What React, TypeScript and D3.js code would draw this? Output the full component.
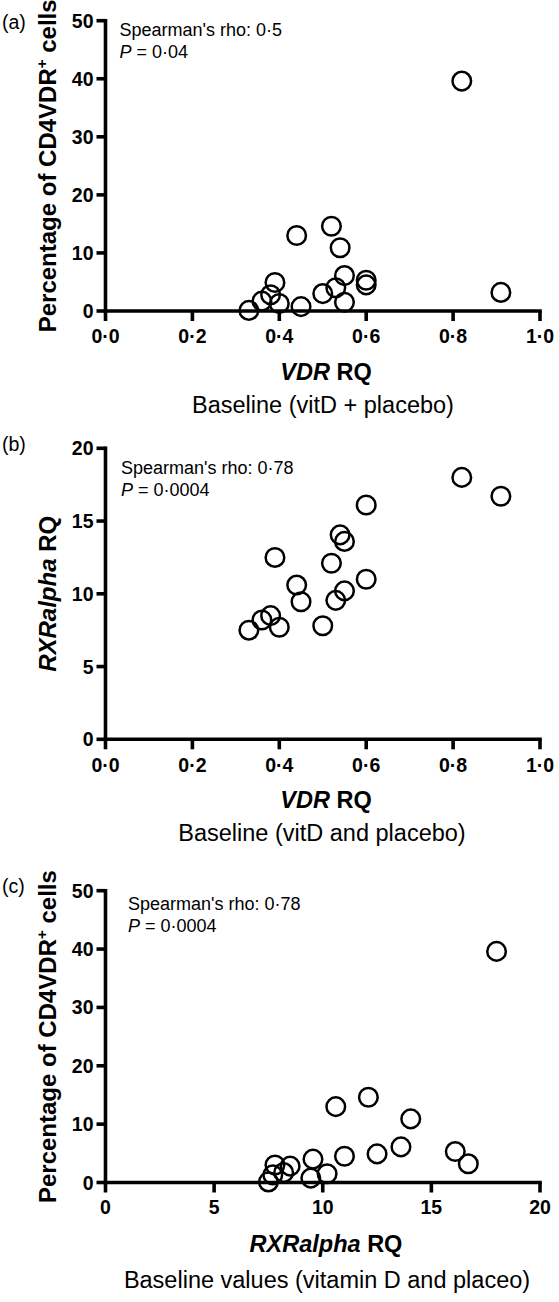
import React from "react";
import * as d3 from "d3";

// ---- data (one entry per participant) ----
const vdrRQ = [0.33, 0.36, 0.38, 0.39, 0.40, 0.44, 0.45, 0.50, 0.52, 0.53, 0.54, 0.55, 0.55, 0.60, 0.60, 0.82, 0.91];
const rxrRQ = [7.5, 8.2, 8.5, 12.5, 7.7, 10.6, 9.45, 7.8, 12.1, 9.55, 14.05, 13.6, 10.2, 16.1, 11.0, 18.0, 16.7];
const cd4VdrPct = [0.1, 1.7, 2.8, 4.9, 1.3, 13.0, 0.75, 3.0, 14.6, 4.0, 10.9, 6.1, 1.5, 5.3, 4.5, 39.6, 3.2];

const vdrTicks = [0, 0.2, 0.4, 0.6, 0.8, 1.0];
const cd4Ticks = [0, 10, 20, 30, 40, 50];
const rxrTicks = [0, 5, 10, 15, 20];

const panelLabels = ["(a)", "(b)", "(c)"];
const rhoTexts = ["Spearman's rho: 0·5", "Spearman's rho: 0·78", "Spearman's rho: 0·78"];
const pTexts = ["0·04", "0·0004", "0·0004"];
const captions = ["Baseline (vitD + placebo)", "Baseline (vitD and placebo)", "Baseline values (vitamin D and placeo)"];

const FONT = "'Liberation Sans', Arial, Helvetica, sans-serif";

const fmtDec = (v: number) => d3.format(".1f")(v).replace(".", "·");
const fmtInt = (v: number) => d3.format("d")(v);

type PanelProps = {
  xs: number[];
  ys: number[];
  xDomain: [number, number];
  yDomain: [number, number];
  xTicks: number[];
  yTicks: number[];
  xFmt: (v: number) => string;
  yFmt: (v: number) => string;
  top: number;
  bottom: number;
  label: string;
  labelY: number;
  rho: string;
  rhoX: number;
  rhoY: number;
  p: string;
  xTitle: React.ReactNode;
  yTitle: React.ReactNode;
  xTickY: number;
  xTitleY: number;
  caption: string;
  captionX: number;
  captionY: number;
};

function Panel(props: PanelProps) {
  const x0 = 105.5;
  const x1 = 540;
  const x = d3.scaleLinear().domain(props.xDomain).range([x0, x1]);
  const y = d3.scaleLinear().domain(props.yDomain).range([props.bottom, props.top]);
  const sw = 3.6;
  return (
    <g fontFamily={FONT} fill="#000">
      {/* axes */}
      <line x1={x0} x2={x0} y1={props.top - sw / 2} y2={props.bottom + sw / 2} stroke="#000" strokeWidth={sw} />
      <line x1={x0} x2={x1 + sw / 2} y1={props.bottom} y2={props.bottom} stroke="#000" strokeWidth={sw} />
      {props.yTicks.map((t) => (
        <g key={"y" + t}>
          <line x1={x0 - 9} x2={x0} y1={y(t)} y2={y(t)} stroke="#000" strokeWidth={sw} />
          <text x={93.5} y={y(t) + 7} textAnchor="end" fontSize={19.5} fontWeight="bold">
            {props.yFmt(t)}
          </text>
        </g>
      ))}
      {props.xTicks.map((t) => (
        <g key={"x" + t}>
          <line x1={x(t)} x2={x(t)} y1={props.bottom} y2={props.bottom + 10} stroke="#000" strokeWidth={sw} />
          <text x={x(t)} y={props.xTickY} textAnchor="middle" fontSize={19.5} fontWeight="bold">
            {props.xFmt(t)}
          </text>
        </g>
      ))}
      {/* points */}
      {props.xs.map((v, i) => (
        <circle key={i} cx={x(v)} cy={y(props.ys[i])} r={9.3} fill="none" stroke="#000" strokeWidth={2.5} />
      ))}
      {/* annotations */}
      <text x={2} y={props.labelY} fontSize={19.5}>{props.label}</text>
      <text x={props.rhoX} y={props.rhoY} fontSize={18}>{props.rho}</text>
      <text x={props.rhoX} y={props.rhoY + 22} fontSize={18}>
        <tspan fontStyle="italic">P</tspan> = {props.p}
      </text>
      <text x={326} y={props.xTitleY} textAnchor="middle" fontSize={23.5} fontWeight="bold">
        {props.xTitle}
      </text>
      <text x={props.captionX} y={props.captionY} textAnchor="middle" fontSize={23.5}>
        {props.caption}
      </text>
      <text
        transform={`translate(56, ${(props.top + props.bottom) / 2}) rotate(-90)`}
        textAnchor="middle"
        fontSize={24}
        fontWeight="bold"
      >
        {props.yTitle}
      </text>
    </g>
  );
}

const cd4Title = (
  <>
    Percentage of CD4VDR<tspan dy={-9} fontSize={15}>+</tspan>
    <tspan dy={9}> cells</tspan>
  </>
);
const vdrTitle = (
  <>
    <tspan fontStyle="italic">VDR</tspan> RQ
  </>
);
const rxrTitle = (
  <>
    <tspan fontStyle="italic">RXRalpha</tspan> RQ
  </>
);

export default function App() {
  return (
    <svg
      width={559}
      height={1302}
      viewBox="0 0 559 1302"
      style={{ position: "absolute", left: 0, top: 0, background: "#fff" }}
    >
      <rect width={559} height={1302} fill="#fff" />
      <Panel
        xs={vdrRQ}
        ys={cd4VdrPct}
        xDomain={[0, 1]}
        yDomain={[0, 50]}
        xTicks={vdrTicks}
        yTicks={cd4Ticks}
        xFmt={fmtDec}
        yFmt={fmtInt}
        top={20.7}
        bottom={311}
        label={panelLabels[0]}
        labelY={29}
        rho={rhoTexts[0]}
        rhoX={119.5}
        rhoY={36}
        p={pTexts[0]}
        xTitle={vdrTitle}
        yTitle={cd4Title}
        xTickY={343}
        xTitleY={380}
        caption={captions[0]}
        captionX={323}
        captionY={413}
      />
      <Panel
        xs={vdrRQ}
        ys={rxrRQ}
        xDomain={[0, 1]}
        yDomain={[0, 20]}
        xTicks={vdrTicks}
        yTicks={rxrTicks}
        xFmt={fmtDec}
        yFmt={fmtInt}
        top={448.3}
        bottom={739.3}
        label={panelLabels[1]}
        labelY={451}
        rho={rhoTexts[1]}
        rhoX={121}
        rhoY={474}
        p={pTexts[1]}
        xTitle={vdrTitle}
        yTitle={rxrTitle}
        xTickY={771.5}
        xTitleY={808}
        caption={captions[1]}
        captionX={322}
        captionY={841}
      />
      <Panel
        xs={rxrRQ}
        ys={cd4VdrPct}
        xDomain={[0, 20]}
        yDomain={[0, 50]}
        xTicks={rxrTicks}
        yTicks={cd4Ticks}
        xFmt={fmtInt}
        yFmt={fmtInt}
        top={890.7}
        bottom={1182.5}
        label={panelLabels[2]}
        labelY={893}
        rho={rhoTexts[2]}
        rhoX={128}
        rhoY={910}
        p={pTexts[2]}
        xTitle={rxrTitle}
        yTitle={cd4Title}
        xTickY={1213.5}
        xTitleY={1251.5}
        caption={captions[2]}
        captionX={327}
        captionY={1288}
      />
    </svg>
  );
}
